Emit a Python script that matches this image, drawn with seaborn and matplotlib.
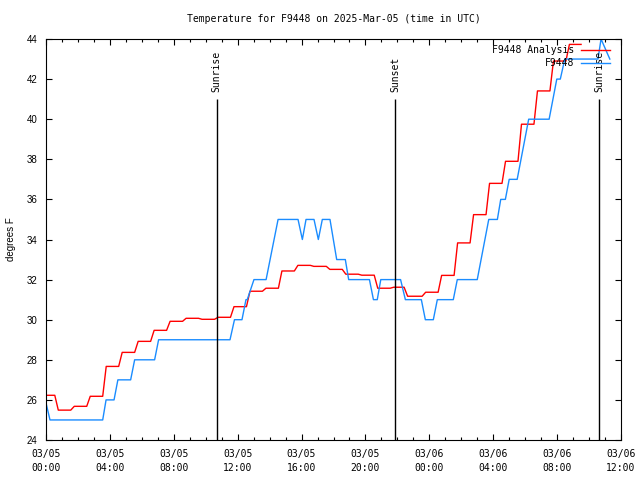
import matplotlib
matplotlib.use("Agg")
import matplotlib.pyplot as plt
from matplotlib.ticker import MultipleLocator, FixedLocator
from matplotlib.lines import Line2D
import seaborn as sns
import pandas as pd

# ---------------- data (hours since 03/05 00:00 UTC) ----------------
title = "Temperature for F9448 on 2025-Mar-05 (time in UTC)"
ylabel = "degrees F"

# Analysis series: starting level, hourly change times and new levels
analysis_start = 26.23
analysis_change_t = [0.55, 1.55, 2.55, 3.55, 4.55, 5.55, 6.55, 7.55, 8.55, 9.55,
                     10.55, 11.55, 12.55, 13.55, 14.55, 15.55, 16.55, 17.55, 18.55,
                     19.55, 20.55, 21.55, 22.42, 23.55, 24.55, 25.55, 26.55, 27.55,
                     28.55, 29.55, 30.55, 31.55, 32.55]
analysis_levels = [25.49, 25.68, 26.18, 27.67, 28.37, 28.92, 29.47, 29.92, 30.07, 30.02,
                   30.12, 30.65, 31.42, 31.57, 32.43, 32.71, 32.66, 32.51, 32.27,
                   32.22, 31.57, 31.62, 31.17, 31.37, 32.21, 33.83, 35.24, 36.80,
                   37.90, 39.75, 41.41, 42.90, 43.73]
analysis_end = 33.5

# Observed series vertices
obs_t = [0.0, 0.25, 3.55, 3.76, 4.26, 4.50, 5.30, 5.55, 6.80, 7.05, 11.52, 11.80,
         12.27, 12.52, 12.60, 13.02, 13.78, 14.53, 15.78, 16.05, 16.28, 16.78,
         17.05, 17.30, 17.78, 18.20, 18.74, 18.95, 20.25, 20.50, 20.74, 20.96,
         22.20, 22.50, 23.50, 23.75, 24.25, 24.50, 25.50, 25.75, 27.00, 27.72,
         28.26, 28.47, 28.76, 29.00, 29.50, 30.22, 31.50, 31.98, 32.20, 32.48,
         34.56, 34.75, 35.30]
obs_v = [25.85, 25.0, 25.0, 26.0, 26.0, 27.0, 27.0, 28.0, 28.0, 29.0, 29.0, 30.0,
         30.0, 31.0, 31.0, 32.0, 32.0, 35.0, 35.0, 34.0, 35.0, 35.0,
         34.0, 35.0, 35.0, 33.0, 33.0, 32.0, 32.0, 31.0, 31.0, 32.0,
         32.0, 31.0, 31.0, 30.0, 30.0, 31.0, 31.0, 32.0, 32.0, 35.0,
         35.0, 36.0, 36.0, 37.0, 37.0, 40.0, 40.0, 42.0, 42.0, 43.0,
         43.0, 44.0, 43.0]

sun_events_t = [10.68, 21.87, 34.65]
sun_events_label = ["Sunrise", "Sunset", "Sunrise"]

xtick_pos = [0, 4, 8, 12, 16, 20, 24, 28, 32, 36]
xtick_labels = ["03/05\n00:00", "03/05\n04:00", "03/05\n08:00", "03/05\n12:00",
                "03/05\n16:00", "03/05\n20:00", "03/06\n00:00", "03/06\n04:00",
                "03/06\n08:00", "03/06\n12:00"]

# ---------------- build analysis polyline ----------------
ramp = 0.22
a_t = [0.0]
a_v = [analysis_start]
prev = analysis_start
for t, lv in zip(analysis_change_t, analysis_levels):
    a_t += [t, t + ramp]
    a_v += [prev, lv]
    prev = lv
a_t.append(analysis_end)
a_v.append(prev)

df = pd.concat([
    pd.DataFrame({"t": a_t, "temp": a_v, "series": "F9448 Analysis"}),
    pd.DataFrame({"t": obs_t, "temp": obs_v, "series": "F9448"}),
], ignore_index=True)

RED = "#ff0000"
BLUE = "#1a8cff"
mono = "DejaVu Sans Mono"
sans = "Liberation Sans"

fig = plt.figure(figsize=(6.4, 4.8), dpi=100)
ax = fig.add_axes([46 / 640, 1 - 440 / 480, 575 / 640, 401 / 480])

sns.lineplot(data=df, x="t", y="temp", hue="series", estimator=None, sort=False,
             palette={"F9448 Analysis": RED, "F9448": BLUE}, linewidth=1.0,
             ax=ax, legend=False)

# sunrise / sunset markers
line_top = 41.0
ax.vlines(sun_events_t, 24, line_top, color="black", linewidth=1.0)
for t, lab in zip(sun_events_t, sun_events_label):
    ax.text(t, 41.35, lab, rotation=90, ha="center", va="bottom",
            family=mono, fontsize=7)

ax.set_xlim(0, 36)
ax.set_ylim(24, 44)
ax.xaxis.set_major_locator(FixedLocator(xtick_pos))
ax.set_xticklabels(xtick_labels, family=mono, fontsize=7, linespacing=1.55)
ax.xaxis.set_minor_locator(MultipleLocator(1))
ax.yaxis.set_major_locator(MultipleLocator(2))
for lab in ax.get_yticklabels():
    lab.set_family(sans)
    lab.set_fontsize(7)
ax.tick_params(which="both", direction="in", top=True, right=True, width=0.8)
ax.tick_params(which="major", length=4)
ax.tick_params(which="minor", length=2.5)
ax.tick_params(axis="x", pad=6.5)
ax.tick_params(axis="y", pad=6)
for s in ax.spines.values():
    s.set_linewidth(0.8)

ax.set_xlabel("")
ax.set_ylabel(ylabel, family=sans, fontsize=7, labelpad=8)
ax.set_title(title, family=mono, fontsize=7, pad=12)

handles = [Line2D([], [], color=RED, linewidth=1.0),
           Line2D([], [], color=BLUE, linewidth=1.0)]
leg = ax.legend(handles, ["F9448 Analysis", "F9448"], loc="upper right",
                bbox_to_anchor=(610 / 640, 1 - 45 / 480), bbox_transform=fig.transFigure,
                frameon=False, markerfirst=False, handlelength=3.0, handletextpad=0.7,
                labelspacing=0.3, borderpad=0, borderaxespad=0,
                prop={"family": mono, "size": 7})

fig.savefig("out.png", dpi=100)
